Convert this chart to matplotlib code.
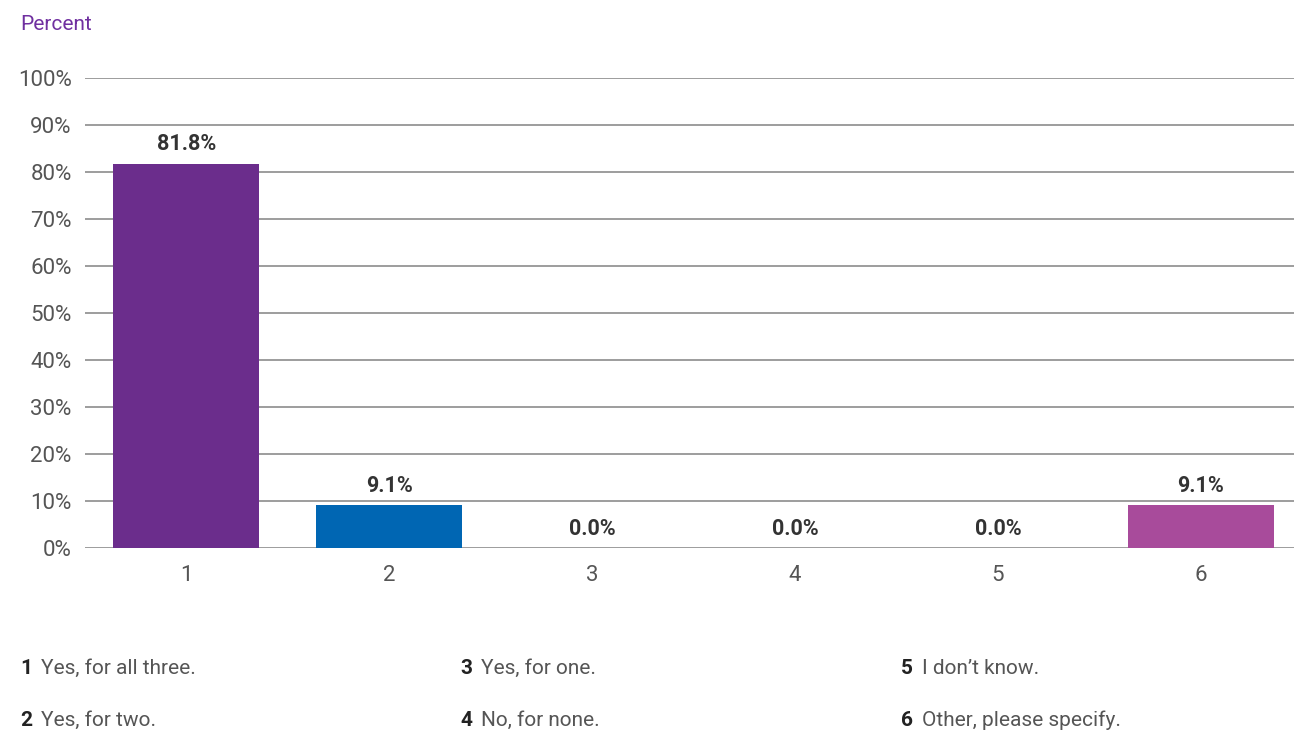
import matplotlib
matplotlib.use("Agg")
import matplotlib.pyplot as plt

# Survey answers: share of respondents per answer option
categories = ["1", "2", "3", "4", "5", "6"]
answers = ["Yes, for all three.", "Yes, for two.", "Yes, for one.",
           "No, for none.", "I don\u2019t know.", "Other, please specify."]
values = [81.8, 9.1, 0.0, 0.0, 0.0, 9.1]
bar_colors = ["#6b2d8c", "#0066b3", "#0066b3", "#0066b3", "#0066b3", "#a84b9b"]
yticks = [0, 10, 20, 30, 40, 50, 60, 70, 80, 90, 100]

plt.rcParams["font.family"] = ["Roboto", "DejaVu Sans"]

fig = plt.figure(figsize=(12.94, 7.32), dpi=100)
ax = fig.add_axes([85 / 1294, 184 / 732, 1209 / 1294, 470 / 732])

x = list(range(len(categories)))
ax.bar(x, values, width=0.72, color=bar_colors, zorder=3)

for xi, v in zip(x, values):
    ax.annotate(f"{v:.1f}%", (xi, v), xytext=(0, 6), textcoords="offset points",
                ha="center", va="bottom", fontsize=15.5, fontweight="semibold",
                color="#333333", zorder=4)

ax.set_xlim(-0.5, 5.46)
ax.set_ylim(0, 100)
ax.set_yticks(yticks)
ax.set_yticklabels([f"{t}%" for t in yticks])
ax.set_xticks(x)
ax.set_xticklabels(categories)
ax.grid(axis="y", color="#8c8c8c", linewidth=1.2, zorder=0)
ax.set_axisbelow(True)
for s in ax.spines.values():
    s.set_visible(False)
ax.tick_params(axis="both", length=0, labelsize=16, labelcolor="#555555")
ax.tick_params(axis="y", pad=9.5)
ax.tick_params(axis="x", pad=12)
for lab in ax.get_xticklabels() + ax.get_yticklabels():
    lab.set_fontweight("normal")

fig.text(20 / 1294, 1 - 24 / 732, "Percent", color="#7030a0", fontsize=15,
         ha="left", va="center")

# Answer key below the chart, three columns of two rows
col_x = [20, 460, 901]
row_y = [668, 720]
for i, (num, txt) in enumerate(zip(categories, answers)):
    cx = col_x[i // 2] / 1294
    cy = 1 - row_y[i % 2] / 732
    fig.text(cx, cy, num, fontsize=15, fontweight="semibold", color="#222222",
             ha="left", va="center")
    fig.text(cx + 21 / 1294, cy, txt, fontsize=15, fontweight="normal",
             color="#555555", ha="left", va="center")

fig.savefig("out.png", dpi=100)
